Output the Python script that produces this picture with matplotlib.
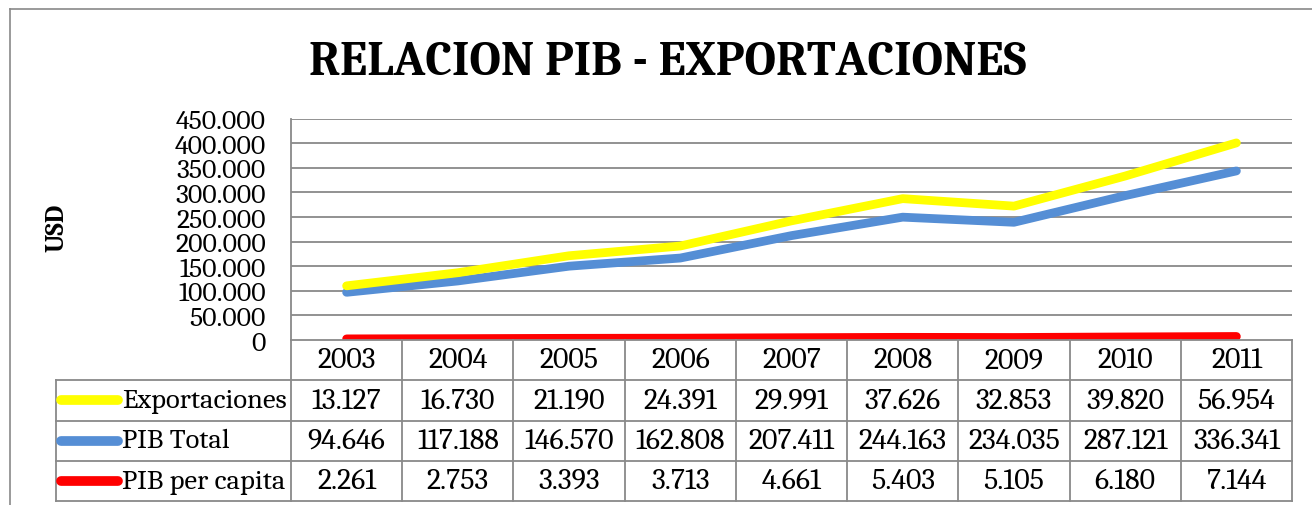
import matplotlib
matplotlib.use("Agg")
import numpy as np
from matplotlib import pyplot as plt
from matplotlib.lines import Line2D

years = ["2003", "2004", "2005", "2006", "2007", "2008", "2009", "2010", "2011"]
exportaciones = [13127, 16730, 21190, 24391, 29991, 37626, 32853, 39820, 56954]
pib_total = [94646, 117188, 146570, 162808, 207411, 244163, 234035, 287121, 336341]
pib_per_capita = [2261, 2753, 3393, 3713, 4661, 5403, 5105, 6180, 7144]

series_names = ["Exportaciones", "PIB Total", "PIB per capita"]
colors = ["#FFFF00", "#558ED5", "#FF0000"]

plt.rcParams["font.family"] = ["Caladea", "Liberation Serif", "DejaVu Serif"]
GRID = "#898989"

W, H = 1312, 506


def fx(px):
    return px / W


def fy(py):
    return 1 - py / H


def thousands(v):
    return f"{v:,}".replace(",", ".")


fig = plt.figure(figsize=(W / 100, H / 100), dpi=100)

# outer chart border (cut at right and bottom like the screenshot)
fig.add_artist(Line2D([fx(10), 1.0], [fy(10), fy(10)], color=GRID, lw=1.2))
fig.add_artist(Line2D([fx(10), fx(10)], [fy(10), 0.0], color=GRID, lw=1.2))

fig.text(fx(668), fy(75), "RELACION PIB - EXPORTACIONES", ha="center", va="baseline",
         fontsize=35, fontweight="bold")

# plot area
left, right, top, bottom = 291, 1292, 119.5, 341
ax = fig.add_axes([fx(left), fy(bottom), fx(right - left), fy(top) - fy(bottom)])
x = np.arange(len(years))

# stacked line chart (Excel "stacked line")
stack_red = np.array(pib_per_capita)
stack_blue = stack_red + np.array(pib_total)
stack_yellow = stack_blue + np.array(exportaciones)
ax.plot(x, stack_red, color=colors[2], lw=6.3, solid_capstyle="round", zorder=3)
ax.plot(x, stack_blue, color=colors[1], lw=6.3, solid_capstyle="round", zorder=3)
ax.plot(x, stack_yellow, color=colors[0], lw=6.3, solid_capstyle="round", zorder=3)

ax.set_xlim(-0.5, len(years) - 0.5)
ax.set_ylim(0, 450000)
ax.set_yticks(np.arange(0, 450001, 50000))
ax.set_yticklabels([thousands(v) for v in range(0, 450001, 50000)], fontsize=20)
ax.set_xticks([])
ax.tick_params(axis="y", length=0, pad=18)
for yy in range(50000, 450001, 50000):
    ax.axhline(yy, color=GRID, lw=1.3, zorder=1)
for s in ["top", "right", "bottom"]:
    ax.spines[s].set_visible(False)
ax.spines["left"].set_color(GRID)
ax.spines["left"].set_linewidth(1.3)
ax.set_ylabel("USD", fontsize=19, fontweight="bold", labelpad=0)
ax.yaxis.set_label_coords((70 - left) / (right - left), 1 - (228 - top) / (bottom - top))

# data table under the chart
tleft, tbottom = 56, 502
col_w = (right - left) / len(years)
leg_w = (left - tleft) / col_w
tab = fig.add_axes([fx(tleft), fy(tbottom), fx(right - tleft), fy(bottom) - fy(tbottom)])
tab.set_xlim(-0.5 - leg_w, len(years) - 0.5)
tab.set_ylim(4, 0)
tab.axis("off")

lw_t = 1.3
# header row: x-axis line and year separators
tab.plot([-0.5, len(years) - 0.5], [0, 0], color=GRID, lw=lw_t, clip_on=False)
for i in range(len(years) + 1):
    tab.plot([i - 0.5, i - 0.5], [0, 4], color=GRID, lw=lw_t, clip_on=False)
for r in range(1, 5):
    tab.plot([-0.5 - leg_w, len(years) - 0.5], [r, r], color=GRID, lw=lw_t, clip_on=False)
tab.plot([-0.5 - leg_w, -0.5 - leg_w], [1, 4], color=GRID, lw=lw_t, clip_on=False)

for i, yr in enumerate(years):
    tab.text(i, 0.5, yr, ha="center", va="center", fontsize=21.5)

rows = [exportaciones, pib_total, pib_per_capita]
key_len = 57 / col_w
for r, (name, vals, c) in enumerate(zip(series_names, rows, colors), start=1):
    k0 = -0.5 - leg_w + 5 / col_w
    tab.plot([k0, k0 + key_len], [r + 0.5, r + 0.5], color=c, lw=7, solid_capstyle="round", clip_on=False)
    tab.text(k0 + key_len + 4 / col_w, r + 0.5, name, ha="left", va="center", fontsize=20.5)
    for i, v in enumerate(vals):
        tab.text(i, r + 0.5, thousands(v), ha="center", va="center", fontsize=21.5)

fig.savefig("out.png", dpi=100)
